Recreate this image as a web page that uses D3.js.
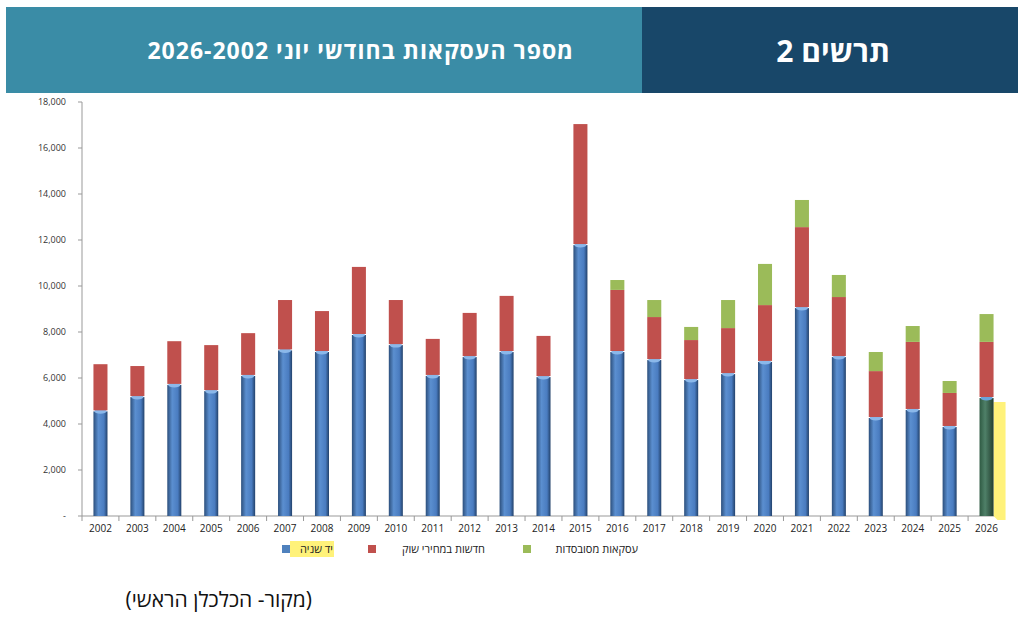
<!DOCTYPE html>
<html><head><meta charset="utf-8">
<script src="https://cdn.jsdelivr.net/npm/d3@7"></script>
<style>body{margin:0;background:#fff;font-family:"Open Sans",Arial,sans-serif}</style>
</head><body><svg id="c" width="1024" height="624"></svg>
<script>
const years=["2002","2003","2004","2005","2006","2007","2008","2009","2010","2011","2012","2013","2014","2015","2016","2017","2018","2019","2020","2021","2022","2023","2024","2025","2026"];
const secondHand=[4550,5170,5700,5430,6090,7200,7130,7870,7430,6090,6910,7130,6040,11780,7130,6780,5910,6170,6700,9040,6910,4260,4610,3870,5130];
const newMarket=[2050,1350,1900,2000,1860,2190,1780,2960,1960,1610,1920,2440,1790,5260,2700,1870,1740,2000,2470,3520,2610,2040,2960,1480,2440];
const subsidized=[0,0,0,0,0,0,0,0,0,0,0,0,0,0,430,740,570,1220,1790,1180,960,830,690,520,1210];
const yTicks=[0,2000,4000,6000,8000,10000,12000,14000,16000,18000];
const legendLabels=["יד שניה","חדשות במחירי שוק","עסקאות מסובסדות"];
const colors=["#4f81bd","#c0504d","#9bbb59"];

const svg=d3.select("#c");
svg.append("rect").attr("x",6).attr("y",7).attr("width",636).attr("height",86).attr("fill","#3a8ca6");
svg.append("rect").attr("x",642).attr("y",7).attr("width",376).attr("height",86).attr("fill","#184769");
svg.append("text").attr("x",574).attr("y",59).attr("text-anchor","start").attr("direction","rtl").attr("fill","#fff").attr("font-size",23).attr("font-weight","bold").attr("letter-spacing",1).text("מספר העסקאות בחודשי יוני 2026-2002");
svg.append("text").attr("x",890).attr("y",62).attr("text-anchor","start").attr("direction","rtl").attr("fill","#fff").attr("font-size",30).attr("font-weight","bold").text("תרשים 2");

const x=d3.scaleBand().domain(years).range([82,1005]).paddingInner(0.62).paddingOuter(0.31);
const y=d3.scaleLinear().domain([0,18000]).range([516,102]);
const g=svg.append("g");
g.append("line").attr("x1",82).attr("x2",82).attr("y1",102).attr("y2",516).attr("stroke","#999");
g.append("line").attr("x1",82).attr("x2",1005).attr("y1",516).attr("y2",516).attr("stroke","#999");
yTicks.forEach(t=>{
  g.append("text").attr("x",66).attr("y",y(t)+3).attr("text-anchor","end").attr("font-size",9).attr("fill","#333").text(t===0?"-":d3.format(",")(t));
  g.append("line").attr("x1",78).attr("x2",82).attr("y1",y(t)).attr("y2",y(t)).attr("stroke","#999");
});
const step=x.step();
years.forEach((yr,i)=>{
  g.append("line").attr("x1",x(yr)-step*0.31).attr("x2",x(yr)-step*0.31).attr("y1",516).attr("y2",521).attr("stroke","#999");
  g.append("text").attr("x",x(yr)+x.bandwidth()/2).attr("y",532).attr("text-anchor","middle").attr("font-size",10).attr("fill","#222").text(yr);
});
const defs=svg.append("defs");
const grad=defs.append("linearGradient").attr("id","bl");
[["0%","#2c4f7c"],["35%","#5b8fd0"],["75%","#4a7cc0"],["100%","#22416a"]].forEach(s=>grad.append("stop").attr("offset",s[0]).attr("stop-color",s[1]));
const grad2=defs.append("linearGradient").attr("id","gr");
[["0%","#2f5a43"],["40%","#4f8068"],["100%","#223f30"]].forEach(s=>grad2.append("stop").attr("offset",s[0]).attr("stop-color",s[1]));
const bw=x.bandwidth();
years.forEach((yr,i)=>{
  const b=secondHand[i],r=b+newMarket[i],s=r+subsidized[i];
  const last=i===years.length-1;
  if(last){
    g.append("path").attr("d",`M${x(yr)+bw},${y(b)+4} L${x(yr)+bw+12},${y(b)+4} L${x(yr)+bw+12},${y(0)+4} L${x(yr)+bw+4},${y(0)+4} L${x(yr)+bw},${y(0)} Z`).attr("fill","#fff27a");
  }
  g.append("rect").attr("x",x(yr)).attr("width",bw).attr("y",y(b)).attr("height",y(0)-y(b)).attr("fill",last?"url(#gr)":"url(#bl)");
  g.append("ellipse").attr("cx",x(yr)+bw/2).attr("cy",y(b)).attr("rx",bw/2-1).attr("ry",2.5).attr("fill",last?"#6aa5dc":"#8bb8ea");
  g.append("rect").attr("x",x(yr)).attr("width",bw).attr("y",y(r)).attr("height",y(b)-y(r)-1).attr("fill",colors[1]);
  if(subsidized[i]>0) g.append("rect").attr("x",x(yr)).attr("width",bw).attr("y",y(s)).attr("height",y(r)-y(s)).attr("fill",colors[2]);
});
// legend
const lg=[{x:333,sq:282,i:0},{x:485,sq:368,i:1},{x:638,sq:523,i:2}];
lg.forEach(l=>{
  if(l.i===0) g.append("rect").attr("x",290).attr("y",541).attr("width",44).attr("height",16).attr("fill","#fff27a");
  g.append("rect").attr("x",l.sq).attr("y",545).attr("width",8).attr("height",8).attr("fill",colors[l.i]);
  g.append("text").attr("x",l.x).attr("y",553).attr("text-anchor","start").attr("direction","rtl").attr("font-size",11).attr("fill","#222").text(legendLabels[l.i]);
});
svg.append("text").attr("x",312).attr("y",607).attr("text-anchor","start").attr("direction","rtl").attr("font-size",21).attr("fill","#111").text("(מקור- הכלכלן הראשי)");
</script></body></html>
